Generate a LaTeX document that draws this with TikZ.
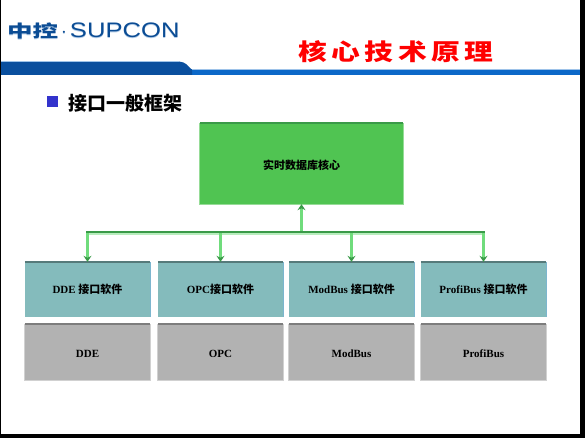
\documentclass[tikz,border=0pt]{standalone}
\usepackage{fontspec}
\usepackage{xcolor}
\usepackage{tikz}
\usetikzlibrary{arrows.meta}
\setmainfont{Liberation Serif}
\newfontfamily\cjk{Noto Sans CJK SC}
\newfontfamily\titlecjk[FakeStretch=1.25, LetterSpace=20]{Noto Sans CJK SC}
\newfontfamily\logocjk[FakeStretch=1.5]{Noto Sans CJK SC}
\newfontfamily\logofont[FakeStretch=1.22]{Liberation Sans}

\definecolor{logoblue}{HTML}{0B4C94}
\definecolor{logoshade}{HTML}{B4CCE6}
\definecolor{banddark}{HTML}{0A4F9E}
\definecolor{bandlight}{HTML}{0C68C8}
\definecolor{bulletblue}{HTML}{3333CC}
\definecolor{corefill}{HTML}{50C452}
\definecolor{soft}{HTML}{84BBBC}
\definecolor{hard}{HTML}{B2B2B2}
\definecolor{linelight}{HTML}{70DC7C}
\definecolor{linedark}{HTML}{3A9A48}

\newcommand{\logotext}{{\logocjk\bfseries\fontsize{17}{17}\selectfont 中控}\hspace{3pt}$\cdot$\hspace{3pt}SUPCON}

\tikzset{
    corebox/.style={fill=corefill, minimum width=203pt, minimum height=81pt, inner sep=0pt, text height=13pt, text depth=0pt, font=\bfseries\fontsize{11}{11}\selectfont},
    softbox/.style={fill=soft, minimum width=125pt, minimum height=55pt, inner sep=0pt, font=\bfseries\fontsize{11}{11}\selectfont},
    hardbox/.style={fill=hard, minimum width=125pt, minimum height=56pt, inner sep=0pt, text height=11pt, text depth=0pt, font=\bfseries\fontsize{11}{11}\selectfont},
    busline/.style={draw=linedark, line width=2pt},
    linkarrow/.style={draw=linelight, line width=2.4pt, -{Stealth[color=linedark, length=6pt, width=8pt]}}
}

\begin{document}
\begin{tikzpicture}[x=1pt, y=-1pt]
    \useasboundingbox (0,0) rectangle (585,438);

    % Rand
    \fill[black] (0,0) rectangle (1,438);
    \fill[black] (580,0) rectangle (585,438);
    \fill[black] (0,434) rectangle (585,438);

    % Kopf
    \node[logoshade, font=\logofont\fontsize{21}{21}\selectfont, inner sep=0pt, anchor=west] (logoshadow) at (7,32) {\logotext};
    \node[logoblue, font=\logofont\fontsize{21}{21}\selectfont, inner sep=0pt, anchor=west] (logo) at (7,30.5) {\logotext};
    \node[red, font=\titlecjk\bfseries\fontsize{23}{23}\selectfont, inner sep=0pt] (title) at (396,52) {核心技术原理};
    \fill[bandlight] (1,69) rectangle (580,75);
    \fill[banddark] (1,61.5) -- (179,61.5) .. controls (186,62) and (188,66) .. (192,70) -- (192,75) -- (1,75) -- cycle;
    \draw[white!60!bandlight, line width=1pt] (1,62) -- (179,62);
    \draw[white!60!bandlight, line width=1pt] (192,69.5) -- (580,69.5);

    % Zwischentitel
    \fill[bulletblue] (47,96) rectangle (58,107);
    \node[font=\cjk\bfseries\fontsize{19}{19}\selectfont, anchor=west, inner sep=0pt] (head) at (68,103) {接口一般框架};

    % Kaesten
    \node[corebox] (core) at (301.5,163.5) {\cjk 实时数据库核心};

    \node[softbox] (ddesoft) at (87.5,289.5) {DDE {\cjk 接口软件}};
    \node[softbox] (opcsoft) at (220.5,289.5) {OPC{\cjk 接口软件}};
    \node[softbox] (modsoft) at (351.5,289.5) {ModBus {\cjk 接口软件}};
    \node[softbox] (profsoft) at (483.5,289.5) {ProfiBus {\cjk 接口软件}};

    \node[hardbox] (dde) at (87.5,352) {DDE};
    \node[hardbox] (opc) at (220.5,352) {OPC};
    \node[hardbox] (mod) at (351.5,352) {ModBus};
    \node[hardbox] (prof) at (483.5,352) {ProfiBus};

    % Kanten der Kaesten
    \draw[line width=1pt, corefill!60!white] (core.north west) -- (core.south west) -- (core.south east) -- (core.north east);
    \draw[line width=1.6pt, linedark] (core.north west) -- (core.north east);
    \foreach \unit in {ddesoft, opcsoft, modsoft, profsoft} {
        \draw[line width=1pt, cyan!25!soft] (\unit.north east) -- (\unit.south east);
        \draw[line width=1.6pt, soft!65!black] (\unit.north west) -- (\unit.north east);
    }
    \foreach \unit in {dde, opc, mod, prof} {
        \draw[line width=1pt, hard!60!white] (\unit.north west) -- (\unit.south west) -- (\unit.south east) -- (\unit.north east);
        \draw[line width=1.6pt, hard!70!black] (\unit.north west) -- (\unit.north east);
    }

    % Sammelschiene
    \coordinate (trunk) at (core.south |- 0,232);
    \draw[linelight!50!white, line width=1.4pt] ([yshift=-1.8pt]ddesoft.north |- trunk) -- ([yshift=-1.8pt]profsoft.north |- trunk);
    \draw[linkarrow] (trunk) -- (core.south);
    \draw[linkarrow] (ddesoft.north |- trunk) -- (ddesoft.north);
    \draw[linkarrow] (opcsoft.north |- trunk) -- (opcsoft.north);
    \draw[linkarrow] (modsoft.north |- trunk) -- (modsoft.north);
    \draw[linkarrow] (profsoft.north |- trunk) -- (profsoft.north);
    \draw[busline] ([xshift=-1.2pt]ddesoft.north |- trunk) -- ([xshift=1.2pt]profsoft.north |- trunk);
\end{tikzpicture}
\end{document}
